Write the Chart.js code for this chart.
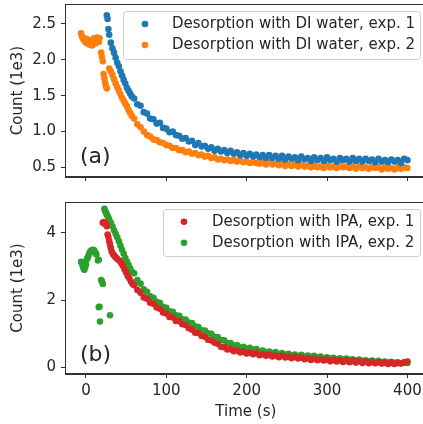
<!DOCTYPE html>
<html>
<head>
<meta charset="utf-8">
<script src="https://cdn.jsdelivr.net/npm/chart.js@4.4.0/dist/chart.umd.min.js"></script>
<style>
  html, body { margin: 0; padding: 0; background: #fff; overflow: hidden; }
  #wrap { position: relative; width: 423px; height: 424px; overflow: hidden; }
  #chartA { position: absolute; left: 0; top: 0; }
  #chartB { position: absolute; left: 0; top: 190px; }
</style>
</head>
<body>
<div id="wrap">
  <canvas id="chartA" width="430" height="190"></canvas>
  <canvas id="chartB" width="430" height="234"></canvas>
</div>
<script>
// ── Data (time in s, counts in 1e3) ──

var xTicks = [0, 100, 200, 300, 400];
var yTicksA = [0.5, 1.0, 1.5, 2.0, 2.5];
var yTicksB = [0, 2, 4];

var labelsA = ["Desorption with DI water, exp. 1", "Desorption with DI water, exp. 2"];
var labelsB = ["Desorption with IPA, exp. 1", "Desorption with IPA, exp. 2"];

// common time base of the slow tail
var tailT = [60, 64, 68, 72, 76, 80, 84, 88, 92, 96, 100, 104, 108, 112, 116, 120, 124, 128, 132, 136,
  140, 144, 148, 152, 156, 160, 164, 168, 172, 176, 180, 184, 188, 192, 196, 200, 204, 208, 212, 216,
  220, 224, 228, 232, 236, 240, 244, 248, 252, 256, 260, 264, 268, 272, 276, 280, 284, 288, 292, 296,
  300, 304, 308, 312, 316, 320, 324, 328, 332, 336, 340, 344, 348, 352, 356, 360, 364, 368, 372, 376,
  380, 384, 388, 392, 396, 400];

// (a) DI water, exp. 1
var water1HeadT = [26, 27, 28, 29, 31, 33, 35, 37, 39, 41, 43, 45, 47, 49, 51, 53, 55, 57];
var water1Head = [2.62, 2.57, 2.43, 2.35, 2.24, 2.16, 2.1, 2.03, 1.96, 1.91, 1.84, 1.78, 1.72, 1.67, 1.61, 1.57, 1.53, 1.49];
var water1Tail = [1.46, 1.38, 1.36, 1.27, 1.25, 1.18, 1.17, 1.11, 1.12, 1.05, 1.04, 0.99, 1.0, 0.95, 0.94, 0.9, 0.91, 0.86, 0.87, 0.81,
  0.84, 0.79, 0.8, 0.76, 0.78, 0.73, 0.76, 0.72, 0.74, 0.7, 0.73, 0.69, 0.71, 0.67, 0.7, 0.66, 0.69, 0.65, 0.68, 0.64,
  0.67, 0.63, 0.67, 0.63, 0.66, 0.62, 0.66, 0.61, 0.65, 0.62, 0.64, 0.6, 0.65, 0.61, 0.63, 0.59, 0.64, 0.6, 0.63, 0.59,
  0.64, 0.6, 0.62, 0.58, 0.63, 0.6, 0.62, 0.58, 0.63, 0.59, 0.62, 0.58, 0.62, 0.59, 0.61, 0.57, 0.62, 0.58, 0.6, 0.57,
  0.61, 0.58, 0.6, 0.56, 0.62, 0.6];

// (a) DI water, exp. 2
var water2HeadT = [-6, -5, -4, -3, -2, -1, 0, 1, 2, 3, 4, 5, 6, 7, 8, 9, 10, 11, 12, 13, 14, 15, 16, 17,
  19, 20, 21, 22, 23, 24, 25, 26,
  29, 31, 33, 35, 37, 39, 41, 43, 45, 47, 49, 51, 53, 55, 57];
var water2Head = [2.37, 2.33, 2.31, 2.28, 2.3, 2.26, 2.24, 2.29, 2.27, 2.22, 2.25, 2.21, 2.27, 2.24, 2.2, 2.26, 2.3, 2.28, 2.23, 2.27, 2.31, 2.29, 2.25, 2.3,
  2.1, 2.04, 1.98, 1.8, 1.74, 1.68, 1.63, 1.6,
  1.88, 1.84, 1.79, 1.73, 1.67, 1.62, 1.57, 1.52, 1.47, 1.43, 1.39, 1.35, 1.3, 1.26, 1.22];
var water2Tail = [1.18, 1.1, 1.06, 1.0, 0.95, 0.93, 0.89, 0.88, 0.85, 0.84, 0.81, 0.8, 0.77, 0.77, 0.74, 0.74, 0.71, 0.72, 0.69, 0.7,
  0.67, 0.68, 0.65, 0.66, 0.63, 0.64, 0.61, 0.62, 0.6, 0.61, 0.59, 0.6, 0.58, 0.59, 0.57, 0.58, 0.56, 0.57, 0.56, 0.55,
  0.57, 0.54, 0.56, 0.54, 0.55, 0.53, 0.55, 0.52, 0.54, 0.52, 0.54, 0.51, 0.53, 0.51, 0.52, 0.5, 0.52, 0.5, 0.51, 0.49,
  0.52, 0.5, 0.51, 0.49, 0.52, 0.5, 0.51, 0.49, 0.51, 0.48, 0.51, 0.49, 0.5, 0.48, 0.51, 0.49, 0.5, 0.47, 0.5, 0.48,
  0.49, 0.47, 0.5, 0.48, 0.5, 0.49];

// (b) IPA, exp. 1
var ipa1HeadT = [21, 22, 23, 24, 25, 26, 27, 28, 29, 30, 31, 32, 34, 36, 38, 40, 42, 44, 46, 48, 50, 52, 54, 56, 58];
var ipa1Head = [4.3, 4.32, 4.28, 4.3, 4.25, 4.2, 3.95, 3.88, 3.75, 3.65, 3.55, 3.45, 3.36, 3.3, 3.25, 3.21, 3.17, 3.1, 3.02, 2.92, 2.82, 2.72, 2.65, 2.55, 2.48];
var ipa1Tail = [2.44, 2.3, 2.22, 2.08, 2.04, 1.92, 1.89, 1.78, 1.74, 1.63, 1.6, 1.5, 1.48, 1.38, 1.37, 1.28, 1.26, 1.16, 1.12, 1.03,
  1.02, 0.93, 0.91, 0.82, 0.8, 0.73, 0.7, 0.61, 0.6, 0.53, 0.54, 0.48, 0.5, 0.44, 0.46, 0.41, 0.44, 0.39, 0.42, 0.36,
  0.39, 0.34, 0.37, 0.32, 0.35, 0.3, 0.34, 0.29, 0.32, 0.27, 0.31, 0.26, 0.29, 0.24, 0.27, 0.22, 0.26, 0.21, 0.24, 0.2,
  0.23, 0.18, 0.22, 0.17, 0.21, 0.16, 0.2, 0.15, 0.19, 0.14, 0.18, 0.13, 0.17, 0.12, 0.16, 0.12, 0.15, 0.11, 0.14, 0.1,
  0.14, 0.1, 0.13, 0.11, 0.15, 0.17];

// (b) IPA, exp. 2
var ipa2HeadT = [-6, -5, -4, -3, -2, -1, 0, 1, 2, 3, 4, 5, 6, 7, 8, 9, 10, 11, 12, 13, 15, 16,
  16, 17, 17.5, 19, 20, 21, 30,
  23, 24, 25, 26, 27, 28, 29, 31, 33, 35, 37, 39, 41, 43, 45, 47, 49, 51, 53, 55, 57];
var ipa2Head = [3.14, 3.1, 3.02, 2.95, 2.9, 2.97, 3.05, 3.2, 3.25, 3.3, 3.38, 3.42, 3.46, 3.44, 3.5, 3.47, 3.49, 3.43, 3.4, 3.36, 3.18, 3.2,
  1.79, 1.8, 1.36, 2.6, 2.55, 2.48, 1.55,
  4.72, 4.65, 4.6, 4.55, 4.5, 4.45, 4.4, 4.3, 4.2, 4.08, 3.97, 3.87, 3.75, 3.62, 3.5, 3.38, 3.25, 3.15, 3.05, 2.95, 2.85];
var ipa2Tail = [2.8, 2.6, 2.49, 2.32, 2.25, 2.11, 2.07, 1.95, 1.92, 1.8, 1.77, 1.67, 1.65, 1.55, 1.53, 1.43, 1.42, 1.33, 1.32, 1.22,
  1.2, 1.1, 1.09, 1.01, 1.0, 0.91, 0.9, 0.81, 0.8, 0.72, 0.72, 0.65, 0.66, 0.59, 0.61, 0.55, 0.58, 0.52, 0.54, 0.48,
  0.5, 0.45, 0.47, 0.42, 0.45, 0.39, 0.42, 0.37, 0.4, 0.35, 0.38, 0.33, 0.37, 0.31, 0.35, 0.31, 0.34, 0.29, 0.32, 0.27,
  0.3, 0.26, 0.28, 0.24, 0.27, 0.23, 0.26, 0.22, 0.24, 0.2, 0.23, 0.19, 0.21, 0.18, 0.2, 0.16, 0.19, 0.15, 0.17, 0.14,
  0.16, 0.13, 0.15, 0.12, 0.14, 0.13];

var COLORS = ["#1f77b4", "#ff7f0e", "#d62728", "#2ca02c"];

// ── Helpers ──

var TEXT = "#262626";
var SPINE = "#333333";
var FONT = "'DejaVu Sans', sans-serif";
var FS = 15;

function pts(t, v) {
  return t.map(function (x, i) { return { x: x, y: v[i] }; });
}

function series(label, t, v, color) {
  return {
    label: label,
    data: pts(t, v),
    backgroundColor: color,
    borderWidth: 0,
    pointRadius: 3.3,
    pointHoverRadius: 3.3,
  };
}

function fixedTicks(list) {
  return function (scale) {
    scale.ticks = list.map(function (v) { return { value: v }; });
  };
}

// frame, panel letter and legend box, matplotlib-like
function decor(letter, letterY, box, rows) {
  return {
    id: "decor",
    afterDraw: function (chart) {
      var ctx = chart.ctx;
      var a = chart.chartArea;
      ctx.save();
      ctx.strokeStyle = SPINE;
      ctx.lineWidth = 1;
      ctx.strokeRect(Math.round(a.left) + 0.5, Math.round(a.top) + 0.5,
        Math.round(a.right - a.left) - 1, Math.round(a.bottom - a.top) - 1);

      ctx.fillStyle = TEXT;
      ctx.font = "22px " + FONT;
      ctx.textBaseline = "middle";
      ctx.fillText(letter, 80, letterY);

      // legend
      var r = 3;
      ctx.beginPath();
      ctx.moveTo(box.x + r, box.y);
      ctx.lineTo(box.x + box.w - r, box.y);
      ctx.arcTo(box.x + box.w, box.y, box.x + box.w, box.y + r, r);
      ctx.lineTo(box.x + box.w, box.y + box.h - r);
      ctx.arcTo(box.x + box.w, box.y + box.h, box.x + box.w - r, box.y + box.h, r);
      ctx.lineTo(box.x + r, box.y + box.h);
      ctx.arcTo(box.x, box.y + box.h, box.x, box.y + box.h - r, r);
      ctx.lineTo(box.x, box.y + r);
      ctx.arcTo(box.x, box.y, box.x + r, box.y, r);
      ctx.closePath();
      ctx.fillStyle = "rgba(255,255,255,0.8)";
      ctx.fill();
      ctx.strokeStyle = "#cccccc";
      ctx.stroke();

      ctx.font = FS + "px " + FONT;
      chart.data.datasets.forEach(function (ds, i) {
        var y = rows[i];
        ctx.fillStyle = ds.backgroundColor;
        ctx.beginPath();
        ctx.arc(box.markerX, y, 3.3, 0, Math.PI * 2);
        ctx.fill();
        ctx.fillStyle = TEXT;
        ctx.fillText(ds.label, box.textX, y);
      });
      ctx.restore();
    },
  };
}

function makeChart(id, datasets, yMin, yMax, yTicks, yFmt, padTop, xAxisH, showX, plugin) {
  var tickFont = { family: FONT, size: FS };
  return new Chart(document.getElementById(id), {
    type: "scatter",
    data: { datasets: datasets },
    options: {
      responsive: false,
      animation: false,
      layout: { padding: { top: padTop, right: 0, bottom: 0, left: 0 } },
      plugins: { legend: { display: false }, tooltip: { enabled: false } },
      scales: {
        x: {
          type: "linear",
          min: -26,
          max: 424,
          afterBuildTicks: fixedTicks(xTicks),
          ticks: { display: showX, color: TEXT, font: tickFont, padding: 4, maxRotation: 0 },
          grid: { drawOnChartArea: false, drawTicks: true, tickLength: 4, color: SPINE },
          border: { display: true, color: SPINE },
          title: { display: showX, text: "Time (s)", color: TEXT, font: tickFont, padding: { top: 0, bottom: 3 } },
          afterFit: function (s) { s.height = xAxisH; s.paddingLeft = 0; s.paddingRight = 0; },
        },
        y: {
          type: "linear",
          min: yMin,
          max: yMax,
          afterBuildTicks: fixedTicks(yTicks),
          ticks: { color: TEXT, font: tickFont, padding: 5, callback: yFmt },
          grid: { drawOnChartArea: false, drawTicks: true, tickLength: 4, color: SPINE },
          border: { display: true, color: SPINE },
          title: { display: true, text: "Count (1e3)", color: TEXT, font: tickFont, padding: { top: 9, bottom: 0 } },
          afterFit: function (s) { s.width = 65; s.paddingTop = 0; s.paddingBottom = 0; },
        },
      },
    },
    plugins: [plugin],
  });
}

// ── Main ──

function main() {
  var dsA = [
    series(labelsA[0], water1HeadT.concat(tailT), water1Head.concat(water1Tail), COLORS[0]),
    series(labelsA[1], water2HeadT.concat(tailT), water2Head.concat(water2Tail), COLORS[1]),
  ];
  var dsB = [
    series(labelsB[0], ipa1HeadT.concat(tailT), ipa1Head.concat(ipa1Tail), COLORS[2]),
    series(labelsB[1], ipa2HeadT.concat(tailT), ipa2Head.concat(ipa2Tail), COLORS[3]),
  ];

  makeChart("chartA", dsA, 0.365, 2.779, yTicksA,
    function (v) { return v.toFixed(1); }, 4, 13, false,
    decor("(a)", 157, { x: 123.5, y: 11.5, w: 297, h: 48, markerX: 145, textX: 172 }, [24, 45]));

  makeChart("chartB", dsB, -0.2, 4.92, yTicksB,
    function (v) { return String(v); }, 12, 50, true,
    decor("(b)", 165, { x: 163.5, y: 19.5, w: 257, h: 47, markerX: 184, textX: 212 }, [31.7, 52.7]));
}

main();
</script>
</body>
</html>
